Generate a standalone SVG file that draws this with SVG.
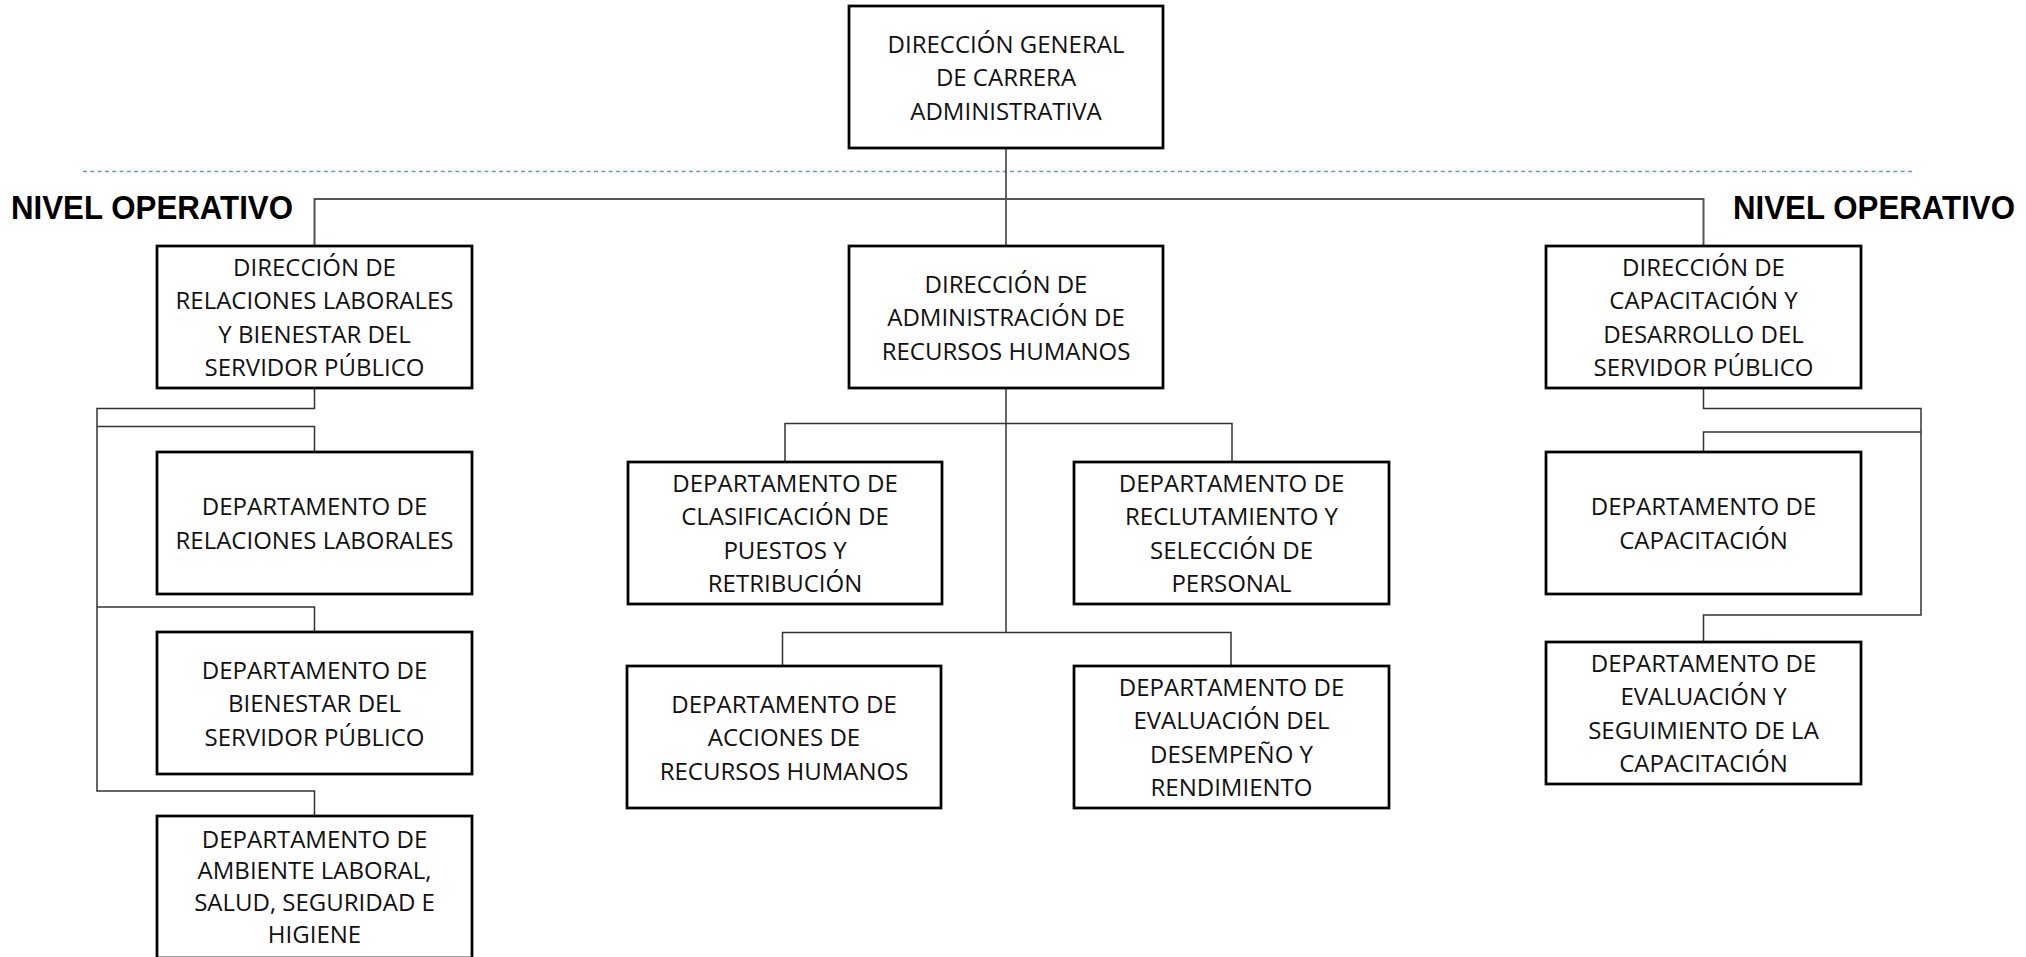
<svg xmlns="http://www.w3.org/2000/svg" width="2026" height="957" viewBox="0 0 2026 957">
<style>
.box{fill:#fff;stroke:#000;stroke-width:2.75}
.t{font-family:"Open Sans","Noto Sans",sans-serif;font-size:24px;fill:#111;text-anchor:middle}
.lvl{font-family:"Liberation Sans",Arial,sans-serif;font-size:34px;font-weight:bold;fill:#000}
.cn{fill:none;stroke:#333;stroke-width:1.5}
.cn2{fill:none;stroke:#555;stroke-width:2}
.dash{stroke:#5B9BD5;stroke-width:1.3;stroke-dasharray:4 3.3;fill:none}
</style>
<rect width="2026" height="957" fill="#fff"/>
<line class="dash" x1="83" y1="171.5" x2="1913" y2="171.5"/>
<text class="lvl" transform="translate(11 0) scale(0.92 1)" x="0" y="219">NIVEL OPERATIVO</text>
<text class="lvl" transform="translate(1733 0) scale(0.92 1)" x="0" y="219">NIVEL OPERATIVO</text>
<g id="connectors">
<path class="cn" d="M1006 148 V246"/>
<path class="cn2" d="M314.5 246 V199 H1703.5 V246"/>
<path class="cn" d="M314.5 388 V408.5 H97 V791 H314.5 V816"/>
<path class="cn" d="M97 426.5 H314.5 V452"/>
<path class="cn" d="M97 607 H314.5 V632"/>
<path class="cn" d="M1006 388 V632.5"/>
<path class="cn" d="M785 462 V423.5 H1232 V462"/>
<path class="cn" d="M782.5 666 V632.5 H1231 V666"/>
<path class="cn" d="M1703.5 388 V408.5 H1921 V615 H1703.5 V642"/>
<path class="cn" d="M1921 432 H1703.5 V452"/>
</g>
<g id="n-dg">
<rect class="box" x="849" y="6" width="314" height="142"/>
<text class="t" x="1006"><tspan x="1006" y="52.5">DIRECCIÓN GENERAL</tspan><tspan x="1006" y="86">DE CARRERA</tspan><tspan x="1006" y="119.5">ADMINISTRATIVA</tspan></text>
</g>
<g id="n-drl">
<rect class="box" x="157" y="246" width="315" height="142"/>
<text class="t"><tspan x="314.5" y="275.8">DIRECCIÓN DE</tspan><tspan x="314.5" y="309.3">RELACIONES LABORALES</tspan><tspan x="314.5" y="342.8">Y BIENESTAR DEL</tspan><tspan x="314.5" y="376.3">SERVIDOR PÚBLICO</tspan></text>
</g>
<g id="n-darh">
<rect class="box" x="849" y="246" width="314" height="142"/>
<text class="t"><tspan x="1006" y="292.5">DIRECCIÓN DE</tspan><tspan x="1006" y="326">ADMINISTRACIÓN DE</tspan><tspan x="1006" y="359.5">RECURSOS HUMANOS</tspan></text>
</g>
<g id="n-dcap">
<rect class="box" x="1546" y="246" width="315" height="142"/>
<text class="t"><tspan x="1703.5" y="275.8">DIRECCIÓN DE</tspan><tspan x="1703.5" y="309.3">CAPACITACIÓN Y</tspan><tspan x="1703.5" y="342.8">DESARROLLO DEL</tspan><tspan x="1703.5" y="376.3">SERVIDOR PÚBLICO</tspan></text>
</g>
<g id="n-deprl">
<rect class="box" x="157" y="452" width="315" height="142"/>
<text class="t"><tspan x="314.5" y="515.3">DEPARTAMENTO DE</tspan><tspan x="314.5" y="548.8">RELACIONES LABORALES</tspan></text>
</g>
<g id="n-depbsp">
<rect class="box" x="157" y="632" width="315" height="142"/>
<text class="t"><tspan x="314.5" y="678.5">DEPARTAMENTO DE</tspan><tspan x="314.5" y="712">BIENESTAR DEL</tspan><tspan x="314.5" y="745.5">SERVIDOR PÚBLICO</tspan></text>
</g>
<g id="n-depamb">
<rect class="box" x="157" y="816" width="315" height="142"/>
<text class="t"><tspan x="314.5" y="847.8">DEPARTAMENTO DE</tspan><tspan x="314.5" y="879.3">AMBIENTE LABORAL,</tspan><tspan x="314.5" y="911.3">SALUD, SEGURIDAD E</tspan><tspan x="314.5" y="943.3">HIGIENE</tspan></text>
</g>
<g id="n-depcpr">
<rect class="box" x="628" y="462" width="314" height="142"/>
<text class="t"><tspan x="785" y="491.8">DEPARTAMENTO DE</tspan><tspan x="785" y="525.3">CLASIFICACIÓN DE</tspan><tspan x="785" y="558.8">PUESTOS Y</tspan><tspan x="785" y="592.3">RETRIBUCIÓN</tspan></text>
</g>
<g id="n-deprsp">
<rect class="box" x="1074" y="462" width="315" height="142"/>
<text class="t"><tspan x="1231.5" y="491.8">DEPARTAMENTO DE</tspan><tspan x="1231.5" y="525.3">RECLUTAMIENTO Y</tspan><tspan x="1231.5" y="558.8">SELECCIÓN DE</tspan><tspan x="1231.5" y="592.3">PERSONAL</tspan></text>
</g>
<g id="n-deparh">
<rect class="box" x="627" y="666" width="314" height="142"/>
<text class="t"><tspan x="784" y="712.5">DEPARTAMENTO DE</tspan><tspan x="784" y="746">ACCIONES DE</tspan><tspan x="784" y="779.5">RECURSOS HUMANOS</tspan></text>
</g>
<g id="n-depedr">
<rect class="box" x="1074" y="666" width="315" height="142"/>
<text class="t"><tspan x="1231.5" y="695.8">DEPARTAMENTO DE</tspan><tspan x="1231.5" y="729.3">EVALUACIÓN DEL</tspan><tspan x="1231.5" y="762.8">DESEMPEÑO Y</tspan><tspan x="1231.5" y="796.3">RENDIMIENTO</tspan></text>
</g>
<g id="n-depcap">
<rect class="box" x="1546" y="452" width="315" height="142"/>
<text class="t"><tspan x="1703.5" y="515.3">DEPARTAMENTO DE</tspan><tspan x="1703.5" y="548.8">CAPACITACIÓN</tspan></text>
</g>
<g id="n-depesc">
<rect class="box" x="1546" y="642" width="315" height="142"/>
<text class="t"><tspan x="1703.5" y="671.8">DEPARTAMENTO DE</tspan><tspan x="1703.5" y="705.3">EVALUACIÓN Y</tspan><tspan x="1703.5" y="738.8">SEGUIMIENTO DE LA</tspan><tspan x="1703.5" y="772.3">CAPACITACIÓN</tspan></text>
</g>
</svg>
